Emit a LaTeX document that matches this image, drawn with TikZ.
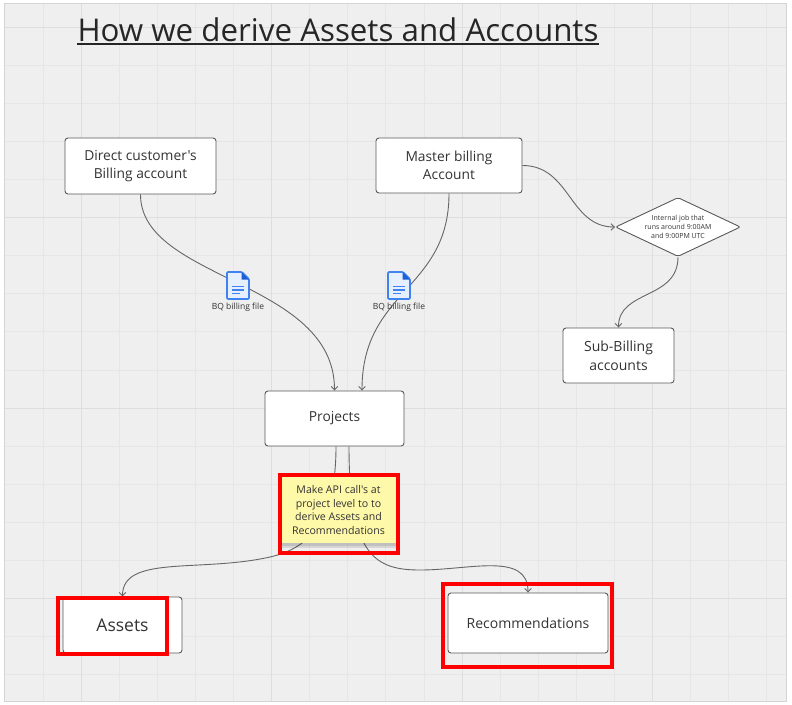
\documentclass[tikz,border=0pt]{standalone}
\usepackage{fontspec}
\setmainfont{Open Sans}[Ligatures=TeXOff]
\usetikzlibrary{shapes.geometric,arrows.meta,calc}
\definecolor{bgc}{HTML}{EFEFEF}
\definecolor{minorc}{HTML}{E6E6E6}
\definecolor{majorc}{HTML}{DEDEDE}
\definecolor{framec}{HTML}{D4D4D4}
\definecolor{edgec}{HTML}{5A5A5A}
\definecolor{txtc}{HTML}{333333}
\definecolor{linec}{HTML}{666666}
\definecolor{stickyc}{HTML}{FEF8A9}
\definecolor{docblue}{HTML}{3F83F0}
\definecolor{docdark}{HTML}{1B5ED6}
\definecolor{doclight}{HTML}{E6EFFD}
\definecolor{redc}{HTML}{FF0000}
\tikzset{
  boxnode/.style={draw=edgec, line width=0.9pt, fill=white, rounded corners=3pt,
    inner sep=0pt, align=center, text=txtc, font=\fontsize{13.8}{18}\selectfont},
  jobnode/.style={diamond, draw=edgec, line width=0.9pt, fill=white, rounded corners=2pt,
    inner sep=0pt, aspect=2.1, align=center, text=txtc, font=\fontsize{7}{9}\selectfont,
    minimum width=125pt, minimum height=59pt},
  stickynode/.style={fill=stickyc, inner sep=0pt, align=center, text=txtc,
    font=\fontsize{10.6}{13.4}\selectfont, minimum width=117pt, minimum height=66pt},
  redframe/.style={draw=redc, line width=4pt, inner sep=0pt},
  conn/.style={draw=linec, line width=0.9pt, -{Straight Barb[length=3.5pt,width=6.5pt]}},
  filelabel/.style={inner sep=0pt, text=txtc, font=\fontsize{8.5}{10}\selectfont},
  docicon/.pic={
    \filldraw[fill=doclight, draw=docblue, line width=1.6pt, rounded corners=1pt]
      (-11,-13.5) -- (4,-13.5) -- (11,-6.5) -- (11,13.5) -- (-11,13.5) -- cycle;
    \fill[docdark] (3.5,-13.5) -- (3.5,-6) -- (11,-6) -- cycle;
    \draw[docblue, line width=1.5pt] (-6,1) -- (6,1) (-6,4.5) -- (6,4.5) (-6,8) -- (2,8);
  }
}
\begin{document}
\begin{tikzpicture}[x=1pt,y=-1pt]
\useasboundingbox (0,0) rectangle (792,704);
\fill[white] (0,0) rectangle (792,704);
% canvas
\fill[bgc] (4,3) rectangle (786,701);
\foreach \i in {-1,...,18} {
  \pgfmathsetmacro\xx{81+38.1*\i}
  \draw[minorc, line width=0.8pt] (\xx,3) -- (\xx,701);
}
\foreach \i in {1,...,17} {
  \pgfmathsetmacro\yy{27+38.1*\i}
  \draw[minorc, line width=0.8pt] (4,\yy) -- (786,\yy);
}
\foreach \i in {0,5,10,15} {
  \pgfmathsetmacro\xx{81+38.1*\i}
  \pgfmathsetmacro\yy{27+38.1*\i}
  \draw[majorc, line width=1pt] (\xx,3) -- (\xx,701);
  \draw[majorc, line width=1pt] (4,\yy) -- (786,\yy);
}
\draw[framec, line width=1pt] (4,3) rectangle (786,701);

% title
\node[inner sep=0pt, anchor=base, text=black!85, font=\fontsize{31.3}{36}\selectfont] (title) at (338,41) {How we derive Assets and Accounts};
\draw[black!85, line width=1.8pt] ($(title.base west)+(0,3)$) -- ($(title.base east)+(0,3)$);

% boxes
\node[boxnode, minimum width=151pt, minimum height=56pt] (dc) at (140.5,166) {Direct customer's\\Billing account};
\node[boxnode, minimum width=146pt, minimum height=55pt] (ma) at (449,165.5) {Master billing\\Account};
\node[jobnode] (job) at (678,227) {Internal job that\\runs around 9:00AM\\and 9:00PM UTC};
\node[boxnode, minimum width=111pt, minimum height=55pt, font=\fontsize{14}{19}\selectfont] (sub) at (618.5,355.5) {Sub-Billing\\accounts};
\node[boxnode, minimum width=139pt, minimum height=55pt] (proj) at (334.5,418.5) {Projects};
\node[boxnode, minimum width=119pt, minimum height=56pt, font=\fontsize{17.5}{21}\selectfont] (asse) at (122.5,625) {Assets};
\node[boxnode, minimum width=160pt, minimum height=60pt, font=\fontsize{14}{18}\selectfont] (rec) at (528,623) {Recommendations};

% connectors
\coordinate (ea) at (270,557);
\coordinate (fa) at (420,570);
\path[conn] (dc.south) .. controls +(0,86) and +(0,-111) .. (proj.north);
\path[conn] (ma.south) .. controls +(0,97) and +(0,-101) .. ([xshift=27.5pt]proj.north);
\path[conn] (ma.east) .. controls +(48,0) and +(-46,0) .. (job.west);
\path[conn] (job.south) .. controls +(0,43) and +(0,-38) .. (sub.north);
\path[conn] ([xshift=1.5pt]proj.south) .. controls +(0,74) and +(40,-9) .. (ea)
   .. controls +(-70,15.75) and +(0,-42) .. (asse.north);
\path[conn] ([xshift=14.5pt]proj.south) .. controls +(0,109) and +(-45,0) .. (fa)
   .. controls +(50,0) and +(0,-41) .. (rec.north);

% file icons
\pic at (238,285.5) {docicon};
\pic at (399,285.5) {docicon};
\node[filelabel] (bq1) at (238,307) {BQ billing file};
\node[filelabel] (bq2) at (399,307) {BQ billing file};

% sticky note
\fill[black, opacity=0.10] (281,540) rectangle (398,548);
\fill[black, opacity=0.10] (281,541) rectangle (398,546);
\node[stickynode] (note) at (338.5,510) {Make API call's at\\project level to to\\derive Assets and\\Recommendations};

% red highlight frames
\node[redframe, minimum width=118pt, minimum height=78pt] (rf1) at (339,514) {};
\node[redframe, minimum width=109pt, minimum height=56pt] (rf2) at (112.5,626) {};
\node[redframe, minimum width=169pt, minimum height=83pt] (rf3) at (527.5,625.5) {};
\end{tikzpicture}
\end{document}
